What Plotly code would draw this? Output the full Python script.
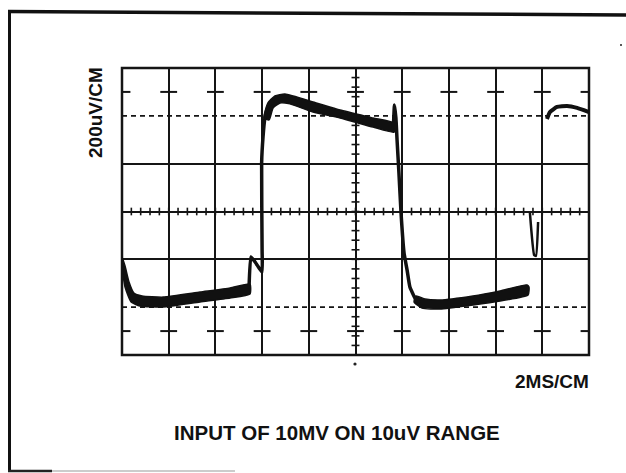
import plotly.graph_objects as go

# Graticule: 10 x 6 divisions, 2 ms/div and 200 uV/div
MS_PER_DIV = 2
UV_PER_DIV = 200
X_DIVS = 10
Y_DIVS = 6

# Smeared (thick) parts of the trace: outline edges, time in ms, amplitude in uV.
# Each band is traced along its upper edge left->right, then its lower edge right->left.
low_band_1_t = [0, 0.13, 0.30, 0.51, 0.86, 1.76, 3.34, 4.63, 5.48,
                5.48, 4.63, 3.34, 1.76, 0.77, 0.39, 0.13, 0]
low_band_1_v = [-190, -228, -295, -341, -353, -358, -337, -320, -303,
                -345, -362, -378, -399, -395, -378, -316, -228]

high_band_1_t = [6.08, 6.25, 6.55, 6.98, 8.18, 9.34, 10.75, 11.65,
                 11.65, 10.75, 9.34, 8.18, 7.19, 6.77, 6.47, 6.30]
high_band_1_v = [391, 454, 483, 491, 458, 424, 391, 370,
                 332, 353, 391, 416, 450, 454, 433, 383]

low_band_2_t = [12.59, 12.98, 13.62, 15.03, 16.19, 17.35, 17.43,
                17.39, 16.19, 15.03, 13.62, 12.85, 12.51]
low_band_2_v = [-353, -366, -370, -353, -332, -307, -316,
                -349, -374, -391, -408, -404, -378]

# Thin (fast) parts of the trace
rise_t = [5.44, 5.52, 5.70, 5.87, 6.00, 6.00, 5.98, 6.04, 6.12, 6.25, 6.47]
rise_v = [-322, -190, -211, -236, -253, -161, 203, 312, 391, 437, 466]

fall_t = [11.62, 11.67, 11.73, 11.78, 11.86, 11.95, 12.08, 12.21, 12.33, 12.55, 12.76]
fall_v = [349, 445, 391, 299, 161, -6, -174, -245, -316, -362, -380]

glitch_t = [17.47, 17.65, 17.73, 17.82]
glitch_v = [-6, -182, -186, -44]

high_2_t = [18.20, 18.33, 18.63, 19.06, 19.49, 20.0]
high_2_v = [387, 416, 437, 441, 433, 416]

bands = [(low_band_1_t, low_band_1_v), (high_band_1_t, high_band_1_v),
         (low_band_2_t, low_band_2_v)]
strokes = [(rise_t, rise_v, 3.5), (fall_t, fall_v, 3.5),
           (glitch_t, glitch_v, 2.5), (high_2_t, high_2_v, 4)]

W, H = 626, 473
ML, MR, MT, MB = 122, 37, 68, 118
PW, PH = W - ML - MR, H - MT - MB

X_MAX = X_DIVS * MS_PER_DIV
Y_MAX = Y_DIVS / 2 * UV_PER_DIV
TRACE = "#111111"


def px(x, y):
    """Page pixel position -> paper fraction."""
    return (x - ML) / PW, (H - MB - y) / PH


fig = go.Figure()

for t, v in bands:
    fig.add_trace(go.Scatter(
        x=t + [t[0]], y=v + [v[0]], mode="lines", fill="toself", fillcolor=TRACE,
        line=dict(color=TRACE, width=1.5, shape="spline", smoothing=0.5),
        hoverinfo="skip", showlegend=False,
    ))

for t, v, w in strokes:
    fig.add_trace(go.Scatter(
        x=t, y=v, mode="lines",
        line=dict(color=TRACE, width=w, shape="spline", smoothing=0.4),
        hoverinfo="skip", showlegend=False,
    ))

INK = "#151515"
shapes = []

# outer border of the graticule
shapes.append(dict(type="rect", xref="paper", yref="paper", x0=0, x1=1, y0=0, y1=1,
                   line=dict(color=INK, width=2.5), layer="below"))

# dashed 10% / 90% reference lines
for yv in (2 * UV_PER_DIV, -2 * UV_PER_DIV):
    shapes.append(dict(type="line", xref="x", yref="y", x0=0, x1=X_MAX, y0=yv, y1=yv,
                       line=dict(color=INK, width=1.6, dash="5px,4px"), layer="below"))

# half-division crosses above and below
for i in range(X_DIVS + 1):
    xc = i * MS_PER_DIV
    for yv in (2.5 * UV_PER_DIV, -2.5 * UV_PER_DIV):
        shapes.append(dict(type="line", xref="x", yref="y", x0=xc - 0.36, x1=xc + 0.36,
                           y0=yv, y1=yv, line=dict(color=INK, width=2), layer="below"))

# minor ticks on the centre lines (5 per division)
for k in range(X_DIVS * 5 + 1):
    xc = k * MS_PER_DIV / 5
    shapes.append(dict(type="line", xref="x", yref="y", x0=xc, x1=xc, y0=-16, y1=16,
                       line=dict(color=INK, width=1.6), layer="below"))
for k in range(-Y_DIVS // 2 * 5, Y_DIVS // 2 * 5 + 1):
    yc = k * UV_PER_DIV / 5
    shapes.append(dict(type="line", xref="x", yref="y", x0=X_MAX / 2 - 0.17,
                       x1=X_MAX / 2 + 0.17, y0=yc, y1=yc,
                       line=dict(color=INK, width=1.6), layer="below"))

# page frame
fx0, fy0 = px(9.5, 10)
fx1, fy1 = px(9.5, 472)
shapes.append(dict(type="line", xref="paper", yref="paper", x0=fx0, y0=fy0, x1=fx1, y1=fy1,
                   line=dict(color="#111111", width=3)))
tx0, ty0 = px(8, 11.5)
tx1, ty1 = px(626, 15)
shapes.append(dict(type="line", xref="paper", yref="paper", x0=tx0, y0=ty0, x1=tx1, y1=ty1,
                   line=dict(color="#111111", width=3.5)))
bx0, by0 = px(8, 471)
bx1, by1 = px(52, 471)
bx2, by2 = px(235, 471)
shapes.append(dict(type="line", xref="paper", yref="paper", x0=bx1, y0=by1, x1=bx2, y1=by2,
                   line=dict(color="#bbbbbb", width=1.5)))
shapes.append(dict(type="line", xref="paper", yref="paper", x0=bx0, y0=by0, x1=bx1, y1=by1,
                   line=dict(color="#222222", width=2.5)))

# specks
for (cx, cy, r) in ((355, 364, 1.6), (621, 45, 1.0)):
    a0, b0 = px(cx - r, cy - r)
    a1, b1 = px(cx + r, cy + r)
    shapes.append(dict(type="circle", xref="paper", yref="paper", x0=a0, y0=b1, x1=a1, y1=b0,
                       fillcolor="#222222", line=dict(width=0)))

FONT = "Liberation Sans, Arial, sans-serif"
annotations = []
ax, ay = px(95, 113)
annotations.append(dict(text="<b>200uV/CM</b>", xref="paper", yref="paper", x=ax, y=ay,
                        textangle=-90, showarrow=False, xanchor="center", yanchor="middle",
                        font=dict(family=FONT, size=19, color="#111111")))
ax, ay = px(591, 382)
annotations.append(dict(text="<b>2MS/CM</b>", xref="paper", yref="paper", x=ax, y=ay,
                        showarrow=False, xanchor="right", yanchor="middle",
                        font=dict(family=FONT, size=19, color="#111111")))
ax, ay = px(337, 432)
annotations.append(dict(text="<b>INPUT OF 10MV ON 10uV RANGE</b>", xref="paper", yref="paper",
                        x=ax, y=ay, showarrow=False, xanchor="center", yanchor="middle",
                        font=dict(family=FONT, size=20.5, color="#111111")))

fig.update_layout(
    width=W, height=H, autosize=False,
    margin=dict(l=ML, r=MR, t=MT, b=MB, pad=0),
    paper_bgcolor="white", plot_bgcolor="white",
    shapes=shapes, annotations=annotations,
    showlegend=False,
    xaxis=dict(range=[0, X_MAX], tickvals=[i * MS_PER_DIV for i in range(1, X_DIVS)],
               showgrid=True, gridcolor=INK, gridwidth=2, zeroline=False,
               showticklabels=False, ticks="", showline=False, fixedrange=True),
    yaxis=dict(range=[-Y_MAX, Y_MAX], tickvals=[-UV_PER_DIV, 0, UV_PER_DIV],
               showgrid=True, gridcolor=INK, gridwidth=2, zeroline=False,
               showticklabels=False, ticks="", showline=False, fixedrange=True),
)

fig.write_html("out.html", config={"displayModeBar": False})
